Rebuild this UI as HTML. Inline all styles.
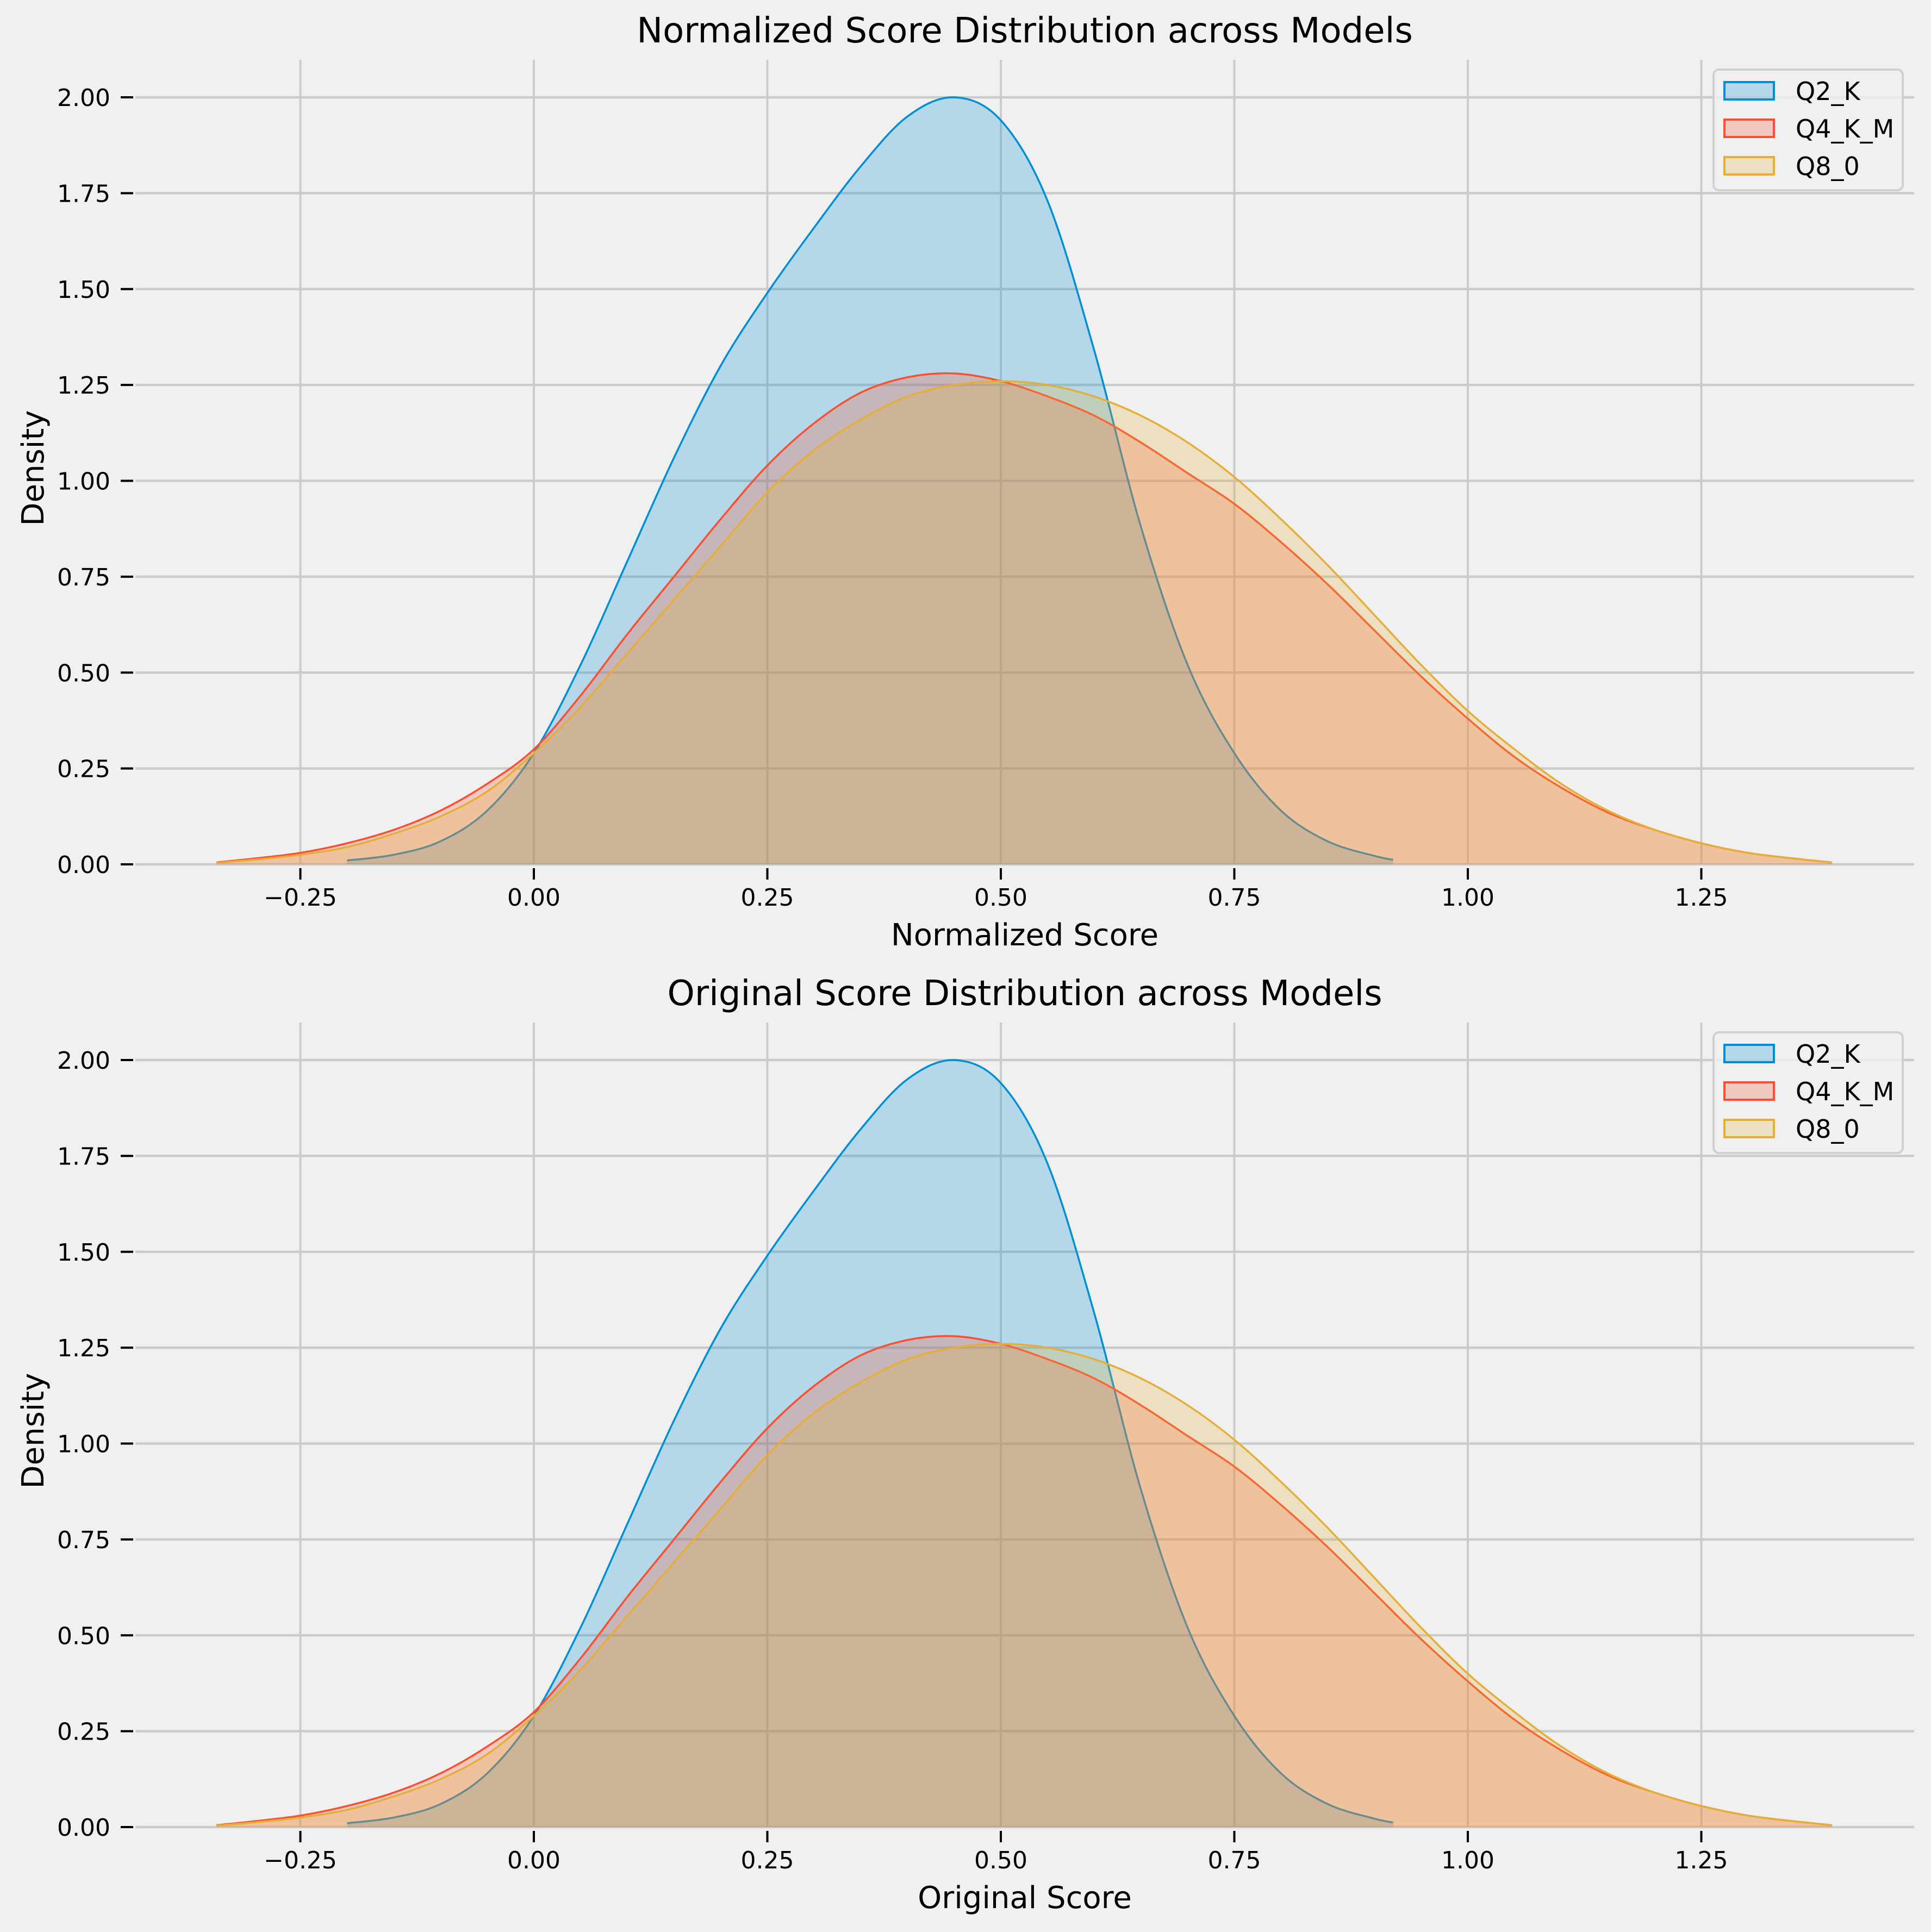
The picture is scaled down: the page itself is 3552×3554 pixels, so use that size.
<!DOCTYPE html>
<html><head><meta charset="utf-8"><style>
body{margin:0;background:#f0f0f0}
svg{display:block;font-family:"DejaVu Sans","Liberation Sans",sans-serif}
</style></head><body>
<svg id="chart" width="3552" height="3554" viewBox="0 0 3552 3554" xmlns="http://www.w3.org/2000/svg">
<rect x="0" y="0" width="3552" height="3554" fill="#f0f0f0"/>
</svg>
<script>
const seriesNames=["Q2_K","Q4_K_M","Q8_0"];
const q2kX=[-0.2,-0.15,-0.1,-0.05,0,0.05,0.1,0.15,0.2,0.25,0.3,0.35,0.4,0.45,0.5,0.55,0.6,0.65,0.7,0.75,0.8,0.85,0.9,0.92];
const q2kY=[0.01,0.025,0.06,0.14,0.29,0.52,0.79,1.06,1.30,1.49,1.66,1.82,1.95,2.00,1.94,1.73,1.34,0.88,0.52,0.29,0.14,0.06,0.022,0.012];
const q4X=[-0.34,-0.3,-0.25,-0.2,-0.15,-0.1,-0.05,0,0.05,0.1,0.15,0.2,0.25,0.3,0.35,0.4,0.45,0.5,0.55,0.6,0.65,0.7,0.75,0.8,0.85,0.9,0.95,1.0,1.05,1.1,1.15,1.2,1.25,1.3,1.35,1.39];
const q4Y=[0.005,0.015,0.03,0.055,0.09,0.14,0.21,0.30,0.44,0.60,0.75,0.90,1.04,1.15,1.23,1.27,1.28,1.26,1.22,1.17,1.10,1.02,0.94,0.84,0.73,0.61,0.49,0.38,0.28,0.20,0.135,0.09,0.055,0.03,0.015,0.005];
const q8X=[-0.34,-0.3,-0.25,-0.2,-0.15,-0.1,-0.05,0,0.05,0.1,0.15,0.2,0.25,0.3,0.35,0.4,0.45,0.5,0.55,0.6,0.65,0.7,0.75,0.8,0.85,0.9,0.95,1.0,1.05,1.1,1.15,1.2,1.25,1.3,1.35,1.39];
const q8Y=[0.004,0.012,0.025,0.045,0.08,0.125,0.19,0.29,0.41,0.55,0.69,0.83,0.97,1.08,1.16,1.22,1.25,1.26,1.25,1.22,1.17,1.10,1.01,0.90,0.78,0.65,0.52,0.40,0.30,0.21,0.14,0.09,0.055,0.03,0.015,0.005];
const xTicks=[-0.25,0,0.25,0.5,0.75,1,1.25];
const xTickLabels=["\u22120.25","0.00","0.25","0.50","0.75","1.00","1.25"];
const yTicks=[0,0.25,0.5,0.75,1,1.25,1.5,1.75,2];
const yTickLabels=["0.00","0.25","0.50","0.75","1.00","1.25","1.50","1.75","2.00"];

const svg=document.getElementById('chart');
const NS="http://www.w3.org/2000/svg";
const colors=["#008fd5","#fc4f30","#e5ae38"];
const xsAll=[q2kX,q4X,q8X], ysAll=[q2kY,q4Y,q8Y];
function mk(t,a,p){const e=document.createElementNS(NS,t);for(const k in a)e.setAttribute(k,a[k]);(p||svg).appendChild(e);return e;}
function smooth(pts){let d="M"+pts[0][0]+","+pts[0][1];for(let i=0;i<pts.length-1;i++){const p0=pts[Math.max(i-1,0)],p1=pts[i],p2=pts[i+1],p3=pts[Math.min(i+2,pts.length-1)];
const c1=[p1[0]+(p2[0]-p0[0])/6,p1[1]+(p2[1]-p0[1])/6],c2=[p2[0]-(p3[0]-p1[0])/6,p2[1]-(p3[1]-p1[1])/6];
d+=" C"+c1[0]+","+c1[1]+" "+c2[0]+","+c2[1]+" "+p2[0]+","+p2[1];}return d;}

function panel(off,title,xlabel,idx){
 const g=mk('g',{});
 
 
 const X=v=>982+v*1718, Y=v=>1590+off-v*705.5;
 const left=249,right=3521,top=110+off,bot=1590+off;
 yTicks.forEach((t,i)=>{const l=mk('line',{x1:left,x2:right,y1:Y(t),y2:Y(t),stroke:"#cbcbcb","stroke-width":4.5},g);
  
  const tk=mk('line',{x1:222,x2:245,y1:Y(t),y2:Y(t),stroke:"#000","stroke-width":4},g);
  
  const tx=mk('text',{x:203,y:Y(t)+16,"text-anchor":"end","font-size":44},g);tx.textContent=yTickLabels[i];
  });
 xTicks.forEach((t,i)=>{const l=mk('line',{x1:X(t),x2:X(t),y1:top,y2:bot,stroke:"#cbcbcb","stroke-width":4},g);
  
  const tk=mk('line',{x1:X(t),x2:X(t),y1:bot+7,y2:bot+28,stroke:"#000","stroke-width":4},g);
  
  const tx=mk('text',{x:X(t),y:bot+76,"text-anchor":"middle","font-size":44},g);tx.textContent=xTickLabels[i];
  });
 xsAll.forEach((xs,s)=>{const pts=xs.map((x,i)=>[X(x),Y(ysAll[s][i])]);
  const d=smooth(pts);
  const f=mk('path',{d:d+" L"+pts[pts.length-1][0]+","+bot+" L"+pts[0][0]+","+bot+" Z",fill:colors[s],"fill-opacity":0.25,stroke:"none"},g);
  
  const ln=mk('path',{d:d,fill:"none",stroke:colors[s],"stroke-width":3.5},g);
  });
 const tt=mk('text',{x:1885,y:78+off,"text-anchor":"middle","font-size":64},g);tt.textContent=title;
 
 const xl=mk('text',{x:1885,y:1739+off,"text-anchor":"middle","font-size":56},g);xl.textContent=xlabel;
 
 const yl=mk('text',{x:0,y:0,"text-anchor":"middle","font-size":56,transform:"translate(80,"+(861+off)+") rotate(-90)"},g);yl.textContent="Density";
 
 const lg=mk('g',{},g);
 
 mk('rect',{x:3152,y:128+off,width:348,height:222,rx:10,fill:"#f0f0f0","fill-opacity":0.8,stroke:"#d0d0d0","stroke-width":4},lg);
 seriesNames.forEach((n,s)=>{const cy=167+off+s*69;
  const r=mk('rect',{x:3172,y:cy-16,width:91,height:32,fill:colors[s],"fill-opacity":0.25,stroke:colors[s],"stroke-width":4},lg);
  
  const t=mk('text',{x:3303,y:cy+17,"font-size":46},lg);t.textContent=n;
  });
}
panel(0,"Normalized Score Distribution across Models","Normalized Score",1);
panel(1771,"Original Score Distribution across Models","Original Score",2);
</script>
</body></html>
